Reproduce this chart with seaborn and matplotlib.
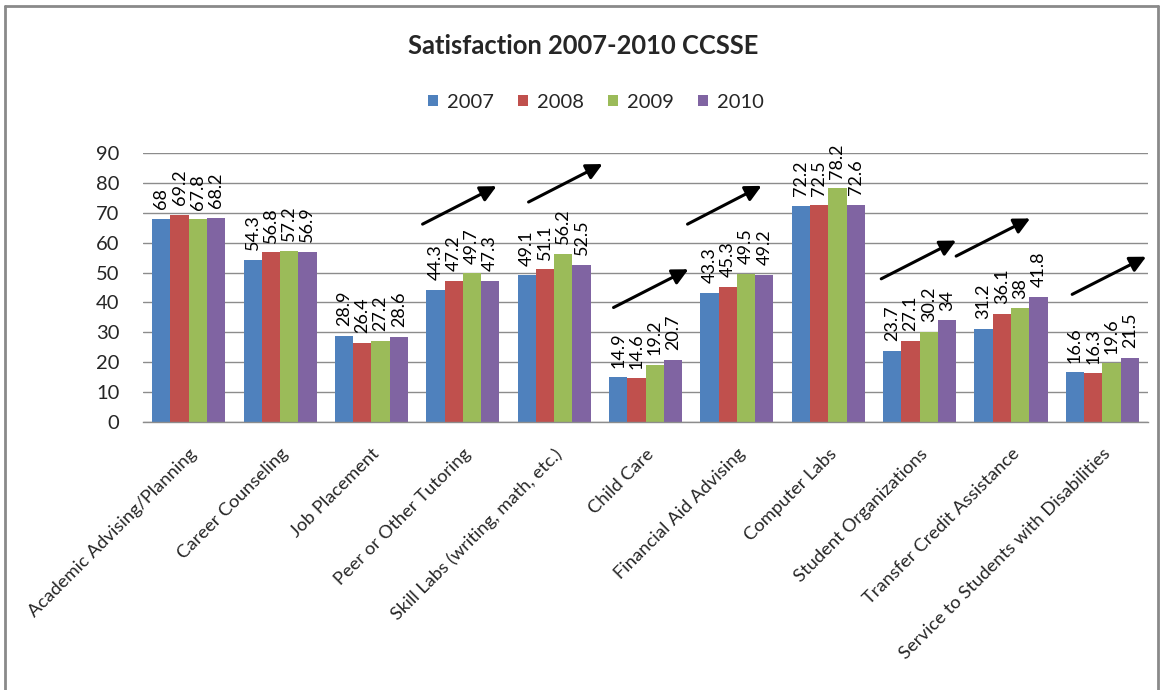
import matplotlib
matplotlib.use("Agg")
import matplotlib.pyplot as plt
from matplotlib.lines import Line2D
from matplotlib.patches import Patch
import seaborn as sns
import pandas as pd

categories = ["Academic Advising/Planning", "Career Counseling", "Job Placement",
              "Peer or Other Tutoring", "Skill Labs (writing, math, etc.)", "Child Care",
              "Financial Aid Advising", "Computer Labs", "Student Organizations",
              "Transfer Credit Assistance", "Service to Students with Disabilities"]
years = ["2007", "2008", "2009", "2010"]
v2007 = [68, 54.3, 28.9, 44.3, 49.1, 14.9, 43.3, 72.2, 23.7, 31.2, 16.6]
v2008 = [69.2, 56.8, 26.4, 47.2, 51.1, 14.6, 45.3, 72.5, 27.1, 36.1, 16.3]
v2009 = [67.8, 57.2, 27.2, 49.7, 56.2, 19.2, 49.5, 78.2, 30.2, 38, 19.6]
v2010 = [68.2, 56.9, 28.6, 47.3, 52.5, 20.7, 49.2, 72.6, 34, 41.8, 21.5]
yticks = [0, 10, 20, 30, 40, 50, 60, 70, 80, 90]

# trend arrows (annotation positions in data coords: start x, start y, end x, end y)
arrows = [(2.56, 66.2, 3.37, 78.9), (3.72, 73.6, 4.53, 86.3), (4.65, 38.3, 5.47, 51.1),
          (5.46, 66.2, 6.27, 79.0), (7.58, 47.9, 8.40, 60.7), (8.40, 55.5, 9.21, 68.1),
          (9.67, 42.7, 10.48, 55.3)]

colors = ["#4F81BD", "#C0504D", "#9BBB59", "#8064A2"]

rows = []
for yr, vals in zip(years, [v2007, v2008, v2009, v2010]):
    for c, v in zip(categories, vals):
        rows.append({"category": c, "year": yr, "value": v})
df = pd.DataFrame(rows)

sns.set_theme(style="white")
plt.rcParams["font.family"] = ["Lato", "DejaVu Sans"]

fig = plt.figure(figsize=(11.64, 6.9), dpi=100)
ax = fig.add_axes([143/1164, 1-422/690, (1148-143)/1164, (422-153)/690])

sns.barplot(data=df, x="category", y="value", hue="year", palette=colors,
            width=0.8, saturation=1, linewidth=0, ax=ax, legend=False)

for cont in ax.containers:
    ax.bar_label(cont, fmt="%g", rotation=90, padding=7, fontsize=13, color="#000000")

ax.set_ylim(0, 90)
ax.set_yticks(yticks)
ax.set_xlim(-0.5, len(categories) - 0.5)
ax.yaxis.grid(True, color="#8C8C8C", linewidth=1)
ax.set_axisbelow(True)
for s in ["left", "right", "top"]:
    ax.spines[s].set_visible(False)
ax.spines["bottom"].set_color("#8C8C8C")
ax.spines["bottom"].set_linewidth(1)
ax.tick_params(axis="y", length=0, pad=17, labelsize=14.5)
ax.tick_params(axis="x", length=0, pad=17, labelsize=13.2)
ax.set_xlabel("")
ax.set_ylabel("")
ax.set_xticks(range(len(categories)))
ax.set_xticklabels(categories, rotation=45, ha="right", rotation_mode="anchor")

for x0, y0, x1, y1 in arrows:
    ax.annotate("", xy=(x1, y1), xytext=(x0, y0),
                arrowprops=dict(arrowstyle="-|>", color="black", lw=2.2,
                                mutation_scale=24, shrinkA=0, shrinkB=0))

fig.text(0.501, 1-46/690, "Satisfaction 2007-2010 CCSSE", ha="center", va="center",
         fontsize=18.4, fontweight="bold")

handles = [Patch(facecolor=c, edgecolor="none") for c in colors]
fig.legend(handles, years, loc="center", bbox_to_anchor=(596/1164, 1-102/690), ncol=4,
           frameon=False, fontsize=14.5, handlelength=0.5, handleheight=0.5,
           handletextpad=0.45, columnspacing=1.2)

# outer frame
for xs, ys in [([5/1164, 1158/1164], [1-6/690, 1-6/690]),
               ([5/1164, 5/1164], [0, 1-6/690]),
               ([1158/1164, 1158/1164], [0, 1-6/690])]:
    fig.add_artist(Line2D(xs, ys, color="#8A8A8A", linewidth=2, transform=fig.transFigure))

fig.savefig("out.png", dpi=100)
